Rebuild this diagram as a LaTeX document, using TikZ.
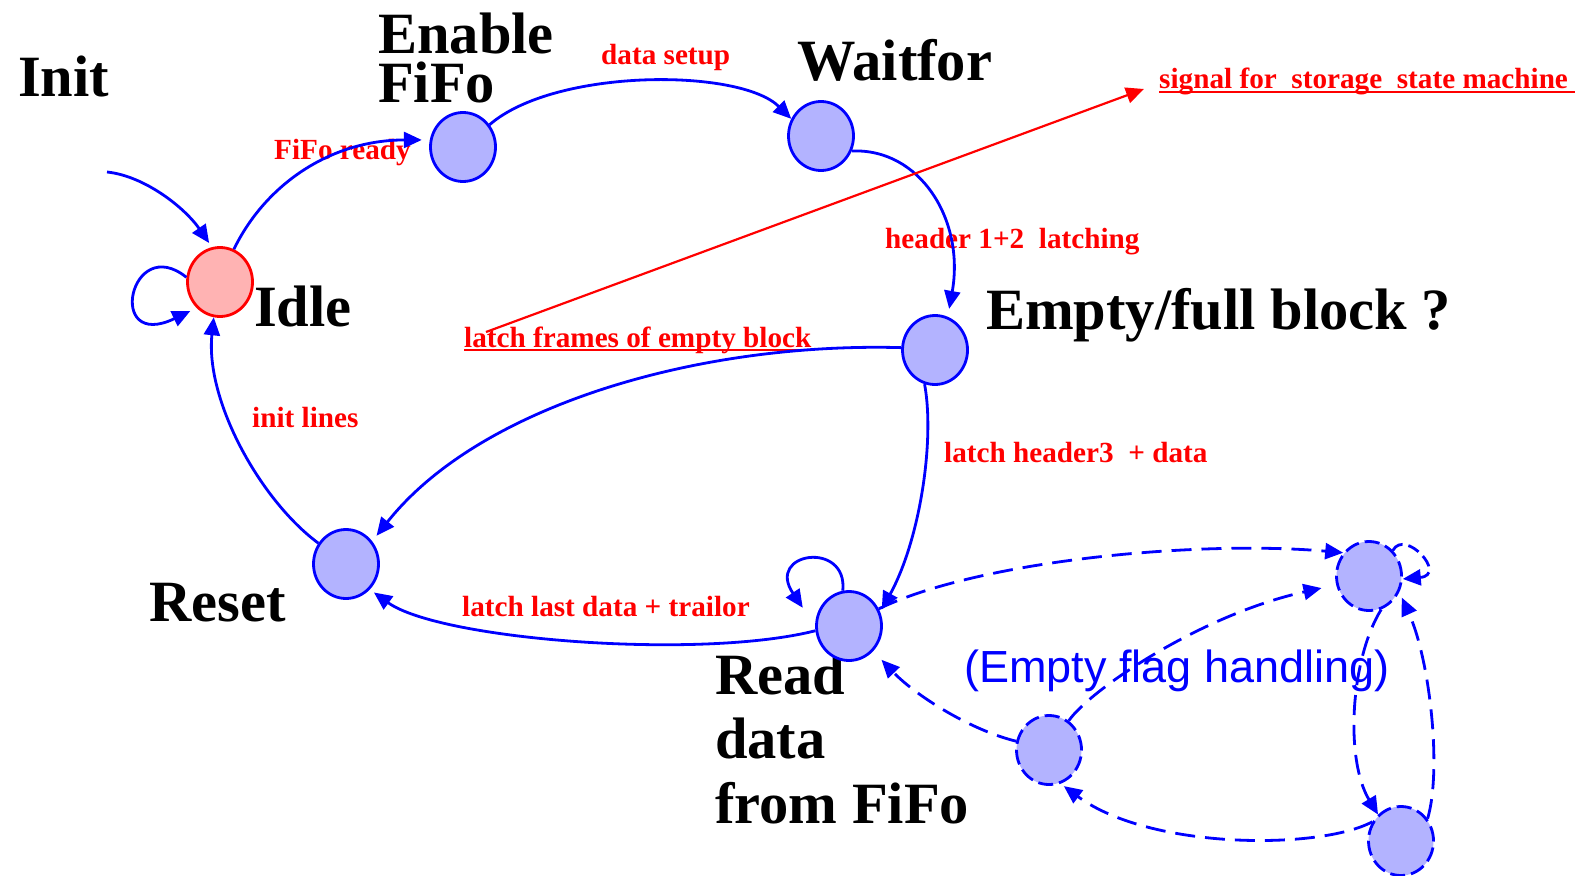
\documentclass[tikz,border=0pt]{standalone}
\usepackage{fontspec}
\setmainfont{Liberation Serif}
\newfontfamily\sansfont{Liberation Sans}
\usetikzlibrary{arrows.meta,shapes.geometric}
\definecolor{stateblue}{RGB}{0,0,255}
\definecolor{statefill}{RGB}{179,179,255}
\definecolor{idlefill}{RGB}{255,179,179}
\definecolor{labelred}{RGB}{255,0,0}

\begin{document}
\begin{tikzpicture}[x=1pt,y=-1pt,
  state/.style={ellipse, draw=stateblue, fill=statefill, line width=2.8pt,
    minimum width=65pt, minimum height=69pt, inner sep=0pt},
  idlestate/.style={state, draw=labelred, fill=idlefill},
  substate/.style={state, dash pattern=on 15pt off 6pt},
  title/.style={anchor=base west, inner sep=0pt,
    font=\bfseries\fontsize{58.5}{58.5}\selectfont},
  cond/.style={anchor=base west, inner sep=0pt, text=labelred,
    font=\bfseries\fontsize{29.2}{29.2}\selectfont},
  trans/.style={draw=stateblue, line width=2.8pt,
    -{Triangle[length=18pt,width=16pt]}},
  subtrans/.style={trans, dash pattern=on 20pt off 10pt},
]
% page
\fill[white] (0,0) rectangle (1578,875);
\useasboundingbox (0,0) rectangle (1578,875);

% state names
\node[title] (tinit) at (18,96) {Init};
\node[title] (tenable1) at (378,53) {Enable};
\node[title] (tenable2) at (378,102) {FiFo};
\node[title] (twait) at (797,80) {Waitfor};
\node[title] (tidle) at (254,326) {Idle};
\node[title] (tempty) at (986,329) {Empty/full block ?};
\node[title] (treset) at (149,621) {Reset};
\node[title] (tread1) at (715,694) {Read};
\node[title] (tread2) at (715,758) {data};
\node[title] (tread3) at (715,823) {from FiFo};

% transition conditions
\node[cond] (cready) at (274,159) {FiFo ready};
\node[cond] (csetup) at (601,64) {data setup};
\node[cond] (csignal) at (1159,88) {signal for~ storage~ state machine\kern7pt};
\node[cond] (chead) at (885,248) {header 1+2~ latching};
\node[cond] (cframes) at (464,347) {latch frames of empty block};
\node[cond] (cinit) at (252,427) {init lines};
\node[cond] (chead3) at (944,462) {latch header3~ + data};
\node[cond] (clast) at (462,616) {latch last data + trailor};
\node[anchor=base west, inner sep=0pt, text=stateblue,
  font=\sansfont\fontsize{45}{45}\selectfont] (cflag) at (964,682) {(Empty flag handling)};

\draw[labelred, line width=1.6pt] ([yshift=-3pt]cframes.base west) -- ([yshift=-3pt]cframes.base east);
\draw[labelred, line width=1.6pt] ([yshift=-4pt]csignal.base west) -- ([yshift=-4pt]csignal.base east);

% states
\node[idlestate] (idle) at (220,282) {};
\node[state] (enable) at (463,147) {};
\node[state] (wait) at (821,136) {};
\node[state] (empty) at (935,350) {};
\node[state] (reset) at (346,564) {};
\node[state] (read) at (849,626) {};
\node[substate] (d1) at (1369,576) {};
\node[substate] (d2) at (1049,750) {};
\node[substate] (d3) at (1401,841) {};

% main transitions
\coordinate (initsrc) at (107,172);
\draw[trans, shorten >=5pt] (initsrc) .. controls (145,176) and (185,208) .. (idle.103);
\draw[trans, shorten >=7pt] (idle.172) .. controls (130,232) and (105,352) .. (idle.228);
\draw[trans, shorten >=8pt] (idle.67) .. controls (265,185) and (330,140) .. (enable.168);
\draw[trans] (enable.40) .. controls (555,68) and (740,68) .. (wait.150);
\draw[trans, shorten >=8pt] (wait.334) .. controls (920,148) and (965,220) .. (empty.69);
\draw[trans, shorten >=7pt] (empty.176) .. controls (700,342) and (480,405) .. (reset.41);
\draw[trans, shorten >=3pt] (empty.253) .. controls (935,440) and (920,540) .. (read.24);
\draw[trans, shorten >=22pt] (read.100) .. controls (848,540) and (765,552) .. (read.180);
\draw[trans, shorten >=5pt] (read.188) .. controls (700,660) and (440,640) .. (reset.313);
\draw[trans] (reset.143) .. controls (260,500) and (205,400) .. (idle.260);

% signal to the storage state machine
\coordinate (sigfrom) at (486,332);
\coordinate (sigto) at (1144,89);
\draw[labelred, line width=2.2pt, -{Triangle[length=18pt,width=16pt]}] (sigfrom) -- (sigto);

% empty flag handling
\draw[subtrans] (read.30) .. controls (980,560) and (1200,540) .. (d1.138);
\draw[subtrans, shorten >=15pt] (d2.56) .. controls (1090,690) and (1200,615) .. (d1.195);
\draw[subtrans, shorten >=12pt] (d2.165) .. controls (970,730) and (915,695) .. (read.314);
\draw[subtrans] (d1.290) .. controls (1350,660) and (1345,760) .. (d3.131);
\draw[subtrans, shorten >=6pt] (d3.40) .. controls (1442,770) and (1430,660) .. (d1.332);
\draw[subtrans, shorten >=4pt] (d3.146) .. controls (1320,850) and (1150,850) .. (d2.289);
\draw[subtrans, dash pattern=on 12pt off 6pt] (d1.47) .. controls (1405,528) and (1448,575) .. (d1.355);
\end{tikzpicture}
\end{document}
